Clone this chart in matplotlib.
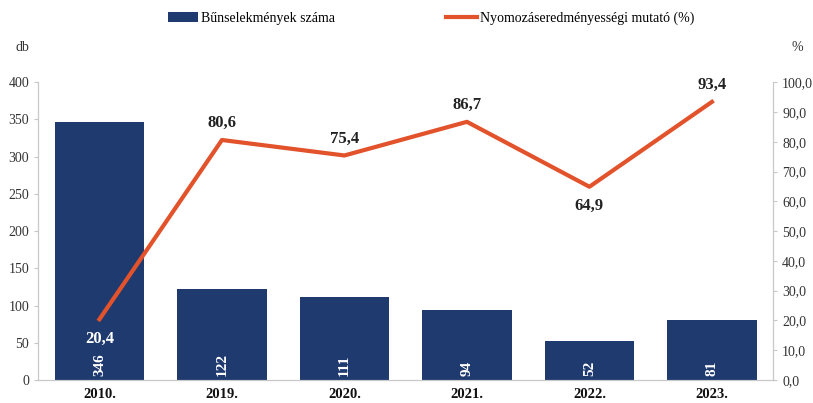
import matplotlib.pyplot as plt
from matplotlib.ticker import MultipleLocator, FuncFormatter

plt.rcParams['font.family'] = ['Liberation Serif', 'DejaVu Serif']

# Adatok
evek = ["2010.", "2019.", "2020.", "2021.", "2022.", "2023."]
bunesetek = [346, 122, 111, 94, 52, 81]
mutato = [20.4, 80.6, 75.4, 86.7, 64.9, 93.4]

bar_szin = "#1f3a6f"
vonal_szin = "#e2522b"
tengely_szin = "#c8c8c8"

fig = plt.figure(figsize=(8.13, 4.03), dpi=100)
ax = fig.add_axes([0.047, 0.057, 0.904, 0.739])
ax2 = ax.twinx()

x = list(range(len(evek)))
bars = ax.bar(x, bunesetek, width=0.73, color=bar_szin, label="Bűnselekmények száma", zorder=2)
ax.set_xlim(-0.5, len(evek) - 0.5)
ax.set_ylim(0, 400)
ax.yaxis.set_major_locator(MultipleLocator(50))

# oszlopfeliratok (fehér, függőleges)
for xi, v in zip(x, bunesetek):
    ax.text(xi, 6, str(v), rotation=90, ha="center", va="bottom", color="white",
            fontsize=11, fontweight="bold", zorder=3)

line, = ax2.plot(x, mutato, color=vonal_szin, lw=3, label="Nyomozáseredményességi mutató (%)", zorder=4)
ax2.set_ylim(0, 100)
ax2.yaxis.set_major_locator(MultipleLocator(10))
ax2.yaxis.set_major_formatter(FuncFormatter(lambda v, p: f"{v:.1f}".replace(".", ",")))

# vonal feliratok
eltolas = [-14, 12, 12, 12, -14, 12]
for xi, v, d in zip(x, mutato, eltolas):
    col = "white" if d < 0 and xi == 0 else "#222222"
    ax2.annotate(f"{v:.1f}".replace(".", ","), (xi, v), xytext=(0, d), textcoords="offset points",
                 ha="center", va="center", fontsize=12, fontweight="bold", color=col, zorder=5)

for a in (ax, ax2):
    a.spines["top"].set_visible(False)
    a.spines["left"].set_color(tengely_szin)
    a.spines["right"].set_color(tengely_szin)
    a.spines["bottom"].set_color(tengely_szin)
    a.tick_params(colors="#333333", labelsize=10, length=3, color=tengely_szin)

ax.set_xticks(x)
ax.set_xticklabels(evek, fontweight="bold", fontsize=10.5, color="#111111")
ax.tick_params(axis="x", length=0, pad=6)

fig.text(0.027, 0.883, "db", fontsize=10, color="#333333", ha="center", va="center")
fig.text(0.981, 0.883, "%", fontsize=10, color="#333333", ha="center", va="center")

fig.legend([bars, line], ["Bűnselekmények száma", "Nyomozáseredményességi mutató (%)"],
           loc="center", bbox_to_anchor=(0.53, 0.955), ncol=2, frameon=False, fontsize=10,
           handlelength=2.2, handletextpad=0.2, columnspacing=8)

fig.savefig("out.png", dpi=100)
